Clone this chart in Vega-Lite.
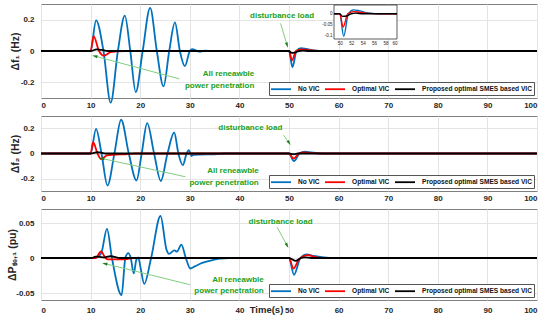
{
 "$schema": "https://vega.github.io/schema/vega-lite/v6.json",
 "padding": {"left": 6, "top": 3, "right": 4, "bottom": 2},
 "spacing": 5,
 "datasets": {
  "curves": [
   {"p":1,"s":"No VIC","t":0,"v":0},{"p":1,"s":"No VIC","t":10,"v":0},{"p":1,"s":"No VIC","t":11.1,"v":0.195},{"p":1,"s":"No VIC","t":12.6,"v":0},{"p":1,"s":"No VIC","t":14.05,"v":-0.33},{"p":1,"s":"No VIC","t":15.5,"v":0},{"p":1,"s":"No VIC","t":16.9,"v":0.226},{"p":1,"s":"No VIC","t":18.0,"v":0},{"p":1,"s":"No VIC","t":19.1,"v":-0.262},{"p":1,"s":"No VIC","t":20.5,"v":0},{"p":1,"s":"No VIC","t":22.0,"v":0.275},{"p":1,"s":"No VIC","t":23.35,"v":0},{"p":1,"s":"No VIC","t":24.7,"v":-0.226},{"p":1,"s":"No VIC","t":25.85,"v":0},{"p":1,"s":"No VIC","t":27.0,"v":0.183},{"p":1,"s":"No VIC","t":28.0,"v":0},{"p":1,"s":"No VIC","t":29.0,"v":-0.097},{"p":1,"s":"No VIC","t":30.0,"v":0},{"p":1,"s":"No VIC","t":30.5,"v":0.012},{"p":1,"s":"No VIC","t":31.2,"v":0.004},{"p":1,"s":"No VIC","t":32,"v":-0.004},{"p":1,"s":"No VIC","t":33,"v":0.002},{"p":1,"s":"No VIC","t":35,"v":0},{"p":1,"s":"No VIC","t":49,"v":0},{"p":1,"s":"No VIC","t":50,"v":0},{"p":1,"s":"No VIC","t":50.7,"v":-0.103},{"p":1,"s":"No VIC","t":51.5,"v":0},{"p":1,"s":"No VIC","t":52.4,"v":0.018},{"p":1,"s":"No VIC","t":53.5,"v":0.013},{"p":1,"s":"No VIC","t":55,"v":0.004},{"p":1,"s":"No VIC","t":57,"v":0},{"p":1,"s":"No VIC","t":60,"v":0},{"p":1,"s":"No VIC","t":100,"v":0},
   {"p":1,"s":"Optimal VIC","t":0,"v":0},{"p":1,"s":"Optimal VIC","t":10,"v":0},{"p":1,"s":"Optimal VIC","t":10.6,"v":0.095},{"p":1,"s":"Optimal VIC","t":11.7,"v":0},{"p":1,"s":"Optimal VIC","t":12.6,"v":-0.03},{"p":1,"s":"Optimal VIC","t":14,"v":-0.008},{"p":1,"s":"Optimal VIC","t":15,"v":-0.003},{"p":1,"s":"Optimal VIC","t":17,"v":0},{"p":1,"s":"Optimal VIC","t":49,"v":0},{"p":1,"s":"Optimal VIC","t":50,"v":0},{"p":1,"s":"Optimal VIC","t":50.6,"v":-0.06},{"p":1,"s":"Optimal VIC","t":51.4,"v":0},{"p":1,"s":"Optimal VIC","t":52.5,"v":0.01},{"p":1,"s":"Optimal VIC","t":53.5,"v":0.007},{"p":1,"s":"Optimal VIC","t":55,"v":0.002},{"p":1,"s":"Optimal VIC","t":57,"v":0},{"p":1,"s":"Optimal VIC","t":60,"v":0},{"p":1,"s":"Optimal VIC","t":100,"v":0},
   {"p":1,"s":"Proposed optimal SMES based VIC","t":0,"v":0},{"p":1,"s":"Proposed optimal SMES based VIC","t":10,"v":0},{"p":1,"s":"Proposed optimal SMES based VIC","t":11.2,"v":0.01},{"p":1,"s":"Proposed optimal SMES based VIC","t":12.2,"v":0.007},{"p":1,"s":"Proposed optimal SMES based VIC","t":13.5,"v":0},{"p":1,"s":"Proposed optimal SMES based VIC","t":49,"v":0},{"p":1,"s":"Proposed optimal SMES based VIC","t":50,"v":0},{"p":1,"s":"Proposed optimal SMES based VIC","t":50.5,"v":-0.012},{"p":1,"s":"Proposed optimal SMES based VIC","t":51.2,"v":-0.01},{"p":1,"s":"Proposed optimal SMES based VIC","t":52,"v":0},{"p":1,"s":"Proposed optimal SMES based VIC","t":52.8,"v":0.003},{"p":1,"s":"Proposed optimal SMES based VIC","t":54,"v":0},{"p":1,"s":"Proposed optimal SMES based VIC","t":60,"v":0},{"p":1,"s":"Proposed optimal SMES based VIC","t":100,"v":0},

   {"p":2,"s":"No VIC","t":0,"v":0},{"p":2,"s":"No VIC","t":10,"v":0},{"p":2,"s":"No VIC","t":11.1,"v":0.197},{"p":2,"s":"No VIC","t":12.2,"v":0},{"p":2,"s":"No VIC","t":13.4,"v":-0.256},{"p":2,"s":"No VIC","t":14.8,"v":0},{"p":2,"s":"No VIC","t":16.15,"v":0.27},{"p":2,"s":"No VIC","t":17.7,"v":0},{"p":2,"s":"No VIC","t":19.25,"v":-0.216},{"p":2,"s":"No VIC","t":20.3,"v":0},{"p":2,"s":"No VIC","t":21.4,"v":0.243},{"p":2,"s":"No VIC","t":22.8,"v":0},{"p":2,"s":"No VIC","t":24.15,"v":-0.22},{"p":2,"s":"No VIC","t":25.5,"v":0},{"p":2,"s":"No VIC","t":26.85,"v":0.168},{"p":2,"s":"No VIC","t":27.7,"v":0},{"p":2,"s":"No VIC","t":28.6,"v":-0.093},{"p":2,"s":"No VIC","t":29.35,"v":0},{"p":2,"s":"No VIC","t":29.8,"v":0.027},{"p":2,"s":"No VIC","t":30.05,"v":0.005},{"p":2,"s":"No VIC","t":30.35,"v":-0.02},{"p":2,"s":"No VIC","t":30.8,"v":-0.01},{"p":2,"s":"No VIC","t":32,"v":-0.008},{"p":2,"s":"No VIC","t":35,"v":-0.006},{"p":2,"s":"No VIC","t":37,"v":0},{"p":2,"s":"No VIC","t":50,"v":0},{"p":2,"s":"No VIC","t":51.0,"v":-0.061},{"p":2,"s":"No VIC","t":52.1,"v":0},{"p":2,"s":"No VIC","t":53.2,"v":0.014},{"p":2,"s":"No VIC","t":54.5,"v":0.008},{"p":2,"s":"No VIC","t":56,"v":0.002},{"p":2,"s":"No VIC","t":58,"v":0},{"p":2,"s":"No VIC","t":100,"v":0},
   {"p":2,"s":"Optimal VIC","t":0,"v":0},{"p":2,"s":"Optimal VIC","t":10,"v":0},{"p":2,"s":"Optimal VIC","t":10.5,"v":0.09},{"p":2,"s":"Optimal VIC","t":11.4,"v":0},{"p":2,"s":"Optimal VIC","t":12.1,"v":-0.045},{"p":2,"s":"Optimal VIC","t":13.3,"v":-0.015},{"p":2,"s":"Optimal VIC","t":14.5,"v":-0.01},{"p":2,"s":"Optimal VIC","t":17,"v":-0.006},{"p":2,"s":"Optimal VIC","t":19,"v":0},{"p":2,"s":"Optimal VIC","t":50,"v":0},{"p":2,"s":"Optimal VIC","t":50.9,"v":-0.04},{"p":2,"s":"Optimal VIC","t":52,"v":0},{"p":2,"s":"Optimal VIC","t":53,"v":0.008},{"p":2,"s":"Optimal VIC","t":54.5,"v":0.004},{"p":2,"s":"Optimal VIC","t":56,"v":0},{"p":2,"s":"Optimal VIC","t":100,"v":0},
   {"p":2,"s":"Proposed optimal SMES based VIC","t":0,"v":0},{"p":2,"s":"Proposed optimal SMES based VIC","t":10,"v":0},{"p":2,"s":"Proposed optimal SMES based VIC","t":11.4,"v":0.01},{"p":2,"s":"Proposed optimal SMES based VIC","t":12.2,"v":0.006},{"p":2,"s":"Proposed optimal SMES based VIC","t":13,"v":0},{"p":2,"s":"Proposed optimal SMES based VIC","t":50,"v":0},{"p":2,"s":"Proposed optimal SMES based VIC","t":51,"v":-0.006},{"p":2,"s":"Proposed optimal SMES based VIC","t":51.8,"v":0},{"p":2,"s":"Proposed optimal SMES based VIC","t":100,"v":0},

   {"p":3,"s":"No VIC","t":0,"v":0},{"p":3,"s":"No VIC","t":10.5,"v":0},{"p":3,"s":"No VIC","t":11.5,"v":0.002},{"p":3,"s":"No VIC","t":12.2,"v":0.008},{"p":3,"s":"No VIC","t":13.3,"v":0.0415},{"p":3,"s":"No VIC","t":14.3,"v":0},{"p":3,"s":"No VIC","t":16.25,"v":-0.053},{"p":3,"s":"No VIC","t":17.0,"v":0},{"p":3,"s":"No VIC","t":17.6,"v":0.007},{"p":3,"s":"No VIC","t":18.1,"v":0},{"p":3,"s":"No VIC","t":18.7,"v":-0.022},{"p":3,"s":"No VIC","t":19.2,"v":-0.003},{"p":3,"s":"No VIC","t":19.6,"v":0.001},{"p":3,"s":"No VIC","t":20.1,"v":-0.015},{"p":3,"s":"No VIC","t":20.8,"v":-0.037},{"p":3,"s":"No VIC","t":22.2,"v":0},{"p":3,"s":"No VIC","t":24.1,"v":0.06},{"p":3,"s":"No VIC","t":25.3,"v":0.012},{"p":3,"s":"No VIC","t":25.8,"v":0.006},{"p":3,"s":"No VIC","t":26.9,"v":0.011},{"p":3,"s":"No VIC","t":27.4,"v":0.009},{"p":3,"s":"No VIC","t":28.3,"v":0.019},{"p":3,"s":"No VIC","t":29.2,"v":0},{"p":3,"s":"No VIC","t":30.1,"v":-0.015},{"p":3,"s":"No VIC","t":31,"v":-0.012},{"p":3,"s":"No VIC","t":32.5,"v":-0.007},{"p":3,"s":"No VIC","t":34,"v":-0.004},{"p":3,"s":"No VIC","t":36,"v":-0.001},{"p":3,"s":"No VIC","t":38,"v":0},{"p":3,"s":"No VIC","t":50,"v":0},{"p":3,"s":"No VIC","t":51.0,"v":-0.024},{"p":3,"s":"No VIC","t":52.3,"v":0},{"p":3,"s":"No VIC","t":53.6,"v":0.005},{"p":3,"s":"No VIC","t":55,"v":0.003},{"p":3,"s":"No VIC","t":57,"v":0.001},{"p":3,"s":"No VIC","t":59,"v":0},{"p":3,"s":"No VIC","t":100,"v":0},
   {"p":3,"s":"Optimal VIC","t":0,"v":0},{"p":3,"s":"Optimal VIC","t":11,"v":0},{"p":3,"s":"Optimal VIC","t":12.1,"v":0.0094},{"p":3,"s":"Optimal VIC","t":13.0,"v":0},{"p":3,"s":"Optimal VIC","t":13.5,"v":-0.002},{"p":3,"s":"Optimal VIC","t":17,"v":-0.002},{"p":3,"s":"Optimal VIC","t":18.5,"v":0},{"p":3,"s":"Optimal VIC","t":50,"v":0},{"p":3,"s":"Optimal VIC","t":50.9,"v":-0.015},{"p":3,"s":"Optimal VIC","t":52,"v":-0.002},{"p":3,"s":"Optimal VIC","t":53.8,"v":0.004},{"p":3,"s":"Optimal VIC","t":55,"v":0.002},{"p":3,"s":"Optimal VIC","t":57,"v":0},{"p":3,"s":"Optimal VIC","t":100,"v":0},
   {"p":3,"s":"Proposed optimal SMES based VIC","t":0,"v":0},{"p":3,"s":"Proposed optimal SMES based VIC","t":10.3,"v":0},{"p":3,"s":"Proposed optimal SMES based VIC","t":11,"v":0.002},{"p":3,"s":"Proposed optimal SMES based VIC","t":12.5,"v":0.001},{"p":3,"s":"Proposed optimal SMES based VIC","t":14,"v":0.0025},{"p":3,"s":"Proposed optimal SMES based VIC","t":16,"v":0},{"p":3,"s":"Proposed optimal SMES based VIC","t":50,"v":0},{"p":3,"s":"Proposed optimal SMES based VIC","t":51.4,"v":-0.004},{"p":3,"s":"Proposed optimal SMES based VIC","t":52.4,"v":0},{"p":3,"s":"Proposed optimal SMES based VIC","t":53.2,"v":0.001},{"p":3,"s":"Proposed optimal SMES based VIC","t":54.5,"v":0},{"p":3,"s":"Proposed optimal SMES based VIC","t":100,"v":0}
  ],
  "notes": [
   {"p":1,"k":"dtext","t":48.6,"v":0.222,"label":"disturbance load"},
   {"p":1,"k":"rtext","t":43.0,"v":-0.148,"label":"All reneawble"},
   {"p":1,"k":"rtext","t":43.0,"v":-0.224,"label":"power penetration"},
   {"p":1,"k":"darrow","t":48.3,"v":0.176,"t2":49.6,"v2":0.039},
   {"p":1,"k":"rarrow","t":27.9,"v":-0.178,"t2":10.9,"v2":-0.033},
   {"p":2,"k":"dtext","t":42.2,"v":0.208,"label":"disturbance load"},
   {"p":2,"k":"rtext","t":43.9,"v":-0.141,"label":"All reneawble"},
   {"p":2,"k":"rtext","t":43.9,"v":-0.234,"label":"power penetration"},
   {"p":2,"k":"darrow","t":48.9,"v":0.147,"t2":50.0,"v2":0.086},
   {"p":2,"k":"rarrow","t":29.1,"v":-0.186,"t2":12.3,"v2":-0.04},
   {"p":3,"k":"dtext","t":48.3,"v":0.0514,"label":"disturbance load"},
   {"p":3,"k":"rtext","t":44.9,"v":-0.0319,"label":"All reneawble"},
   {"p":3,"k":"rtext","t":44.9,"v":-0.0476,"label":"power penetration"},
   {"p":3,"k":"darrow","t":47.6,"v":0.044,"t2":49.6,"v2":0.0181},
   {"p":3,"k":"rarrow","t":30.0,"v":-0.0381,"t2":12.9,"v2":-0.0081}
  ]
 },
 "config": {
  "font": "Liberation Sans",
  "view": {"stroke": "#808080"},
  "axis": {"labelFontSize": 8, "labelFontWeight": "bold", "labelColor": "#262626", "titleFontSize": 10.5, "titleFontWeight": "bold", "titleColor": "#262626", "gridColor": "#e4e4e4", "domain": false, "ticks": false},
  "legend": {"orient": "bottom-right", "direction": "horizontal", "offset": 3, "symbolType": "M-2.5,0L2.5,0", "symbolSize": 64, "symbolStrokeWidth": 2, "symbolOffset": 5, "labelOffset": 12, "labelFontSize": 6.6, "labelFontWeight": "bold", "labelColor": "#111", "strokeColor": "#555", "fillColor": "white", "padding": 2, "columnPadding": 1, "labelLimit": 300},
  "line": {"clip": true, "strokeWidth": 1.8, "interpolate": "monotone"}
 },
 "resolve": {"scale": {"color": "independent"}, "legend": {"color": "independent"}},
 "vconcat": [
  {
   "width": 496, "height": 94,
   "resolve": {"scale": {"x": "independent", "y": "independent"}},
   "layer": [
    {
     "encoding": {
      "x": {"field": "t", "type": "quantitative", "scale": {"domain": [0, 100], "nice": false, "zero": false}, "axis": {"values": [0,10,20,30,40,50,60,70,80,90,100], "title": null, "labelPadding": 3, "grid": true}},
      "y": {"field": "v", "type": "quantitative", "scale": {"domain": [-0.3, 0.3], "nice": false, "zero": false}, "axis": {"values": [-0.2, 0, 0.2], "title": "Δf₁ (Hz)", "labelPadding": 7, "titleX": -26, "titleBaseline": "middle", "labelExpr": "replace(format(datum.value, ''), '−', '-')"}}
     },
     "layer": [
      {"data": {"name": "curves"}, "transform": [{"filter": "datum.p == 1 && datum.s == 'No VIC'"}], "mark": {"type": "line"}, "encoding": {"color": {"field": "s", "type": "nominal", "scale": {"domain": ["No VIC", "Optimal VIC", "Proposed optimal SMES based VIC"], "range": ["#0072BD", "#FF0000", "#000000"]}, "legend": {"title": null}}}},
      {"data": {"name": "curves"}, "transform": [{"filter": "datum.p == 1 && datum.s == 'Optimal VIC'"}], "mark": {"type": "line"}, "encoding": {"color": {"field": "s", "type": "nominal", "scale": {"domain": ["No VIC", "Optimal VIC", "Proposed optimal SMES based VIC"], "range": ["#0072BD", "#FF0000", "#000000"]}, "legend": {"title": null}}}},
      {"data": {"name": "curves"}, "transform": [{"filter": "datum.p == 1 && datum.s == 'Proposed optimal SMES based VIC'"}], "mark": {"type": "line"}, "encoding": {"color": {"field": "s", "type": "nominal", "scale": {"domain": ["No VIC", "Optimal VIC", "Proposed optimal SMES based VIC"], "range": ["#0072BD", "#FF0000", "#000000"]}, "legend": {"title": null}}}},
      {"data": {"name": "notes"}, "transform": [{"filter": "datum.p == 1 && (datum.k == 'darrow' || datum.k == 'rarrow')"}], "mark": {"type": "rule", "color": "#7fcf7f", "strokeWidth": 1}, "encoding": {"x2": {"field": "t2"}, "y2": {"field": "v2"}}},
      {"data": {"name": "notes"}, "transform": [{"filter": "datum.p == 1 && datum.k == 'darrow'"}], "mark": {"type": "point", "shape": "M0,-1L0.5,0.8L-0.5,0.8Z", "filled": true, "size": 35, "angle": 162, "color": "#1e7d1e", "opacity": 1}, "encoding": {"x": {"field": "t2", "type": "quantitative"}, "y": {"field": "v2", "type": "quantitative"}}},
      {"data": {"name": "notes"}, "transform": [{"filter": "datum.p == 1 && datum.k == 'rarrow'"}], "mark": {"type": "point", "shape": "M0,-1L0.5,0.8L-0.5,0.8Z", "filled": true, "size": 35, "angle": 285, "color": "#1e7d1e", "opacity": 1}, "encoding": {"x": {"field": "t2", "type": "quantitative"}, "y": {"field": "v2", "type": "quantitative"}}},
      {"data": {"name": "notes"}, "transform": [{"filter": "datum.p == 1 && datum.k == 'dtext'"}], "mark": {"type": "text", "fontSize": 8, "fontWeight": "bold", "color": "#22a022", "align": "center", "baseline": "middle"}, "encoding": {"text": {"field": "label"}}},
      {"data": {"name": "notes"}, "transform": [{"filter": "datum.p == 1 && datum.k == 'rtext'"}], "mark": {"type": "text", "fontSize": 8, "fontWeight": "bold", "color": "#22a022", "align": "right", "baseline": "middle"}, "encoding": {"text": {"field": "label"}}}
     ]
    },
    {
     "layer": [
      {"data": {"values": [{}]}, "mark": {"type": "rect", "fill": "white", "stroke": "#333333", "strokeWidth": 0.8},
       "encoding": {
        "x": {"datum": 49, "type": "quantitative", "scale": {"domain": [49, 60], "range": [293, 356], "nice": false, "zero": false}, "axis": {"orient": "bottom", "offset": -59, "values": [50,52,54,56,58,60], "labelFontSize": 4.5, "labelFontWeight": "normal", "labelPadding": 1, "grid": false, "title": null, "zindex": 1}},
        "x2": {"datum": 60},
        "y": {"datum": -0.115, "type": "quantitative", "scale": {"domain": [-0.115, 0.04], "range": [35, 1], "nice": false, "zero": false}, "axis": {"orient": "left", "offset": -293, "values": [-0.1, -0.05, 0], "labelFontSize": 4.5, "labelFontWeight": "normal", "labelPadding": 2, "grid": false, "title": null, "zindex": 1, "labelExpr": "replace(format(datum.value, ''), '−', '-')"}},
        "y2": {"datum": 0.04}
       }},
      {"data": {"name": "curves"}, "transform": [{"filter": "datum.p == 1 && datum.s == 'No VIC' && datum.t >= 49 && datum.t <= 60"}], "mark": {"type": "line", "color": "#0072BD", "strokeWidth": 1.4}, "encoding": {"x": {"field": "t", "type": "quantitative"}, "y": {"field": "v", "type": "quantitative"}}},
      {"data": {"name": "curves"}, "transform": [{"filter": "datum.p == 1 && datum.s == 'Optimal VIC' && datum.t >= 49 && datum.t <= 60"}], "mark": {"type": "line", "color": "#FF0000", "strokeWidth": 1.4}, "encoding": {"x": {"field": "t", "type": "quantitative"}, "y": {"field": "v", "type": "quantitative"}}},
      {"data": {"name": "curves"}, "transform": [{"filter": "datum.p == 1 && datum.s == 'Proposed optimal SMES based VIC' && datum.t >= 49 && datum.t <= 60"}], "mark": {"type": "line", "color": "#000000", "strokeWidth": 1.4}, "encoding": {"x": {"field": "t", "type": "quantitative"}, "y": {"field": "v", "type": "quantitative"}}}
     ]
    }
   ]
  },
  {
   "width": 496, "height": 75,
   "encoding": {
    "x": {"field": "t", "type": "quantitative", "scale": {"domain": [0, 100], "nice": false, "zero": false}, "axis": {"values": [0,10,20,30,40,50,60,70,80,90,100], "title": null, "labelPadding": 3, "grid": true}},
    "y": {"field": "v", "type": "quantitative", "scale": {"domain": [-0.3, 0.3], "nice": false, "zero": false}, "axis": {"values": [-0.2, 0, 0.2], "title": "Δf₂ (Hz)", "labelPadding": 7, "titleX": -26, "titleBaseline": "middle", "labelExpr": "replace(format(datum.value, ''), '−', '-')"}}
   },
   "layer": [
    {"data": {"name": "curves"}, "transform": [{"filter": "datum.p == 2 && datum.s == 'No VIC'"}], "mark": {"type": "line"}, "encoding": {"color": {"field": "s", "type": "nominal", "scale": {"domain": ["No VIC", "Optimal VIC", "Proposed optimal SMES based VIC"], "range": ["#0072BD", "#FF0000", "#000000"]}, "legend": {"title": null}}}},
    {"data": {"name": "curves"}, "transform": [{"filter": "datum.p == 2 && datum.s == 'Optimal VIC'"}], "mark": {"type": "line"}, "encoding": {"color": {"field": "s", "type": "nominal", "scale": {"domain": ["No VIC", "Optimal VIC", "Proposed optimal SMES based VIC"], "range": ["#0072BD", "#FF0000", "#000000"]}, "legend": {"title": null}}}},
    {"data": {"name": "curves"}, "transform": [{"filter": "datum.p == 2 && datum.s == 'Proposed optimal SMES based VIC'"}], "mark": {"type": "line"}, "encoding": {"color": {"field": "s", "type": "nominal", "scale": {"domain": ["No VIC", "Optimal VIC", "Proposed optimal SMES based VIC"], "range": ["#0072BD", "#FF0000", "#000000"]}, "legend": {"title": null}}}},
    {"data": {"name": "notes"}, "transform": [{"filter": "datum.p == 2 && (datum.k == 'darrow' || datum.k == 'rarrow')"}], "mark": {"type": "rule", "color": "#7fcf7f", "strokeWidth": 1}, "encoding": {"x2": {"field": "t2"}, "y2": {"field": "v2"}}},
    {"data": {"name": "notes"}, "transform": [{"filter": "datum.p == 2 && datum.k == 'darrow'"}], "mark": {"type": "point", "shape": "M0,-1L0.5,0.8L-0.5,0.8Z", "filled": true, "size": 35, "angle": 147, "color": "#1e7d1e", "opacity": 1}, "encoding": {"x": {"field": "t2", "type": "quantitative"}, "y": {"field": "v2", "type": "quantitative"}}},
    {"data": {"name": "notes"}, "transform": [{"filter": "datum.p == 2 && datum.k == 'rarrow'"}], "mark": {"type": "point", "shape": "M0,-1L0.5,0.8L-0.5,0.8Z", "filled": true, "size": 35, "angle": 282, "color": "#1e7d1e", "opacity": 1}, "encoding": {"x": {"field": "t2", "type": "quantitative"}, "y": {"field": "v2", "type": "quantitative"}}},
    {"data": {"name": "notes"}, "transform": [{"filter": "datum.p == 2 && datum.k == 'dtext'"}], "mark": {"type": "text", "fontSize": 8, "fontWeight": "bold", "color": "#22a022", "align": "center", "baseline": "middle"}, "encoding": {"text": {"field": "label"}}},
    {"data": {"name": "notes"}, "transform": [{"filter": "datum.p == 2 && datum.k == 'rtext'"}], "mark": {"type": "text", "fontSize": 8, "fontWeight": "bold", "color": "#22a022", "align": "right", "baseline": "middle"}, "encoding": {"text": {"field": "label"}}}
   ]
  },
  {
   "width": 496, "height": 91,
   "encoding": {
    "x": {"field": "t", "type": "quantitative", "scale": {"domain": [0, 100], "nice": false, "zero": false}, "axis": {"values": [0,10,20,30,40,50,60,70,80,90,100], "title": "Time(s)", "titleX": 225, "titleY": 9, "titleBaseline": "middle", "titleFontSize": 9.5, "labelPadding": 6, "grid": true}},
    "y": {"field": "v", "type": "quantitative", "scale": {"domain": [-0.06, 0.07], "nice": false, "zero": false}, "axis": {"values": [-0.05, 0, 0.05], "title": "ΔPₜᵢₑ,₁ (pu)", "labelPadding": 7, "titleX": -29, "titleBaseline": "middle", "labelExpr": "replace(format(datum.value, ''), '−', '-')"}}
   },
   "layer": [
    {"data": {"name": "curves"}, "transform": [{"filter": "datum.p == 3 && datum.s == 'No VIC'"}], "mark": {"type": "line"}, "encoding": {"color": {"field": "s", "type": "nominal", "scale": {"domain": ["No VIC", "Optimal VIC", "Proposed optimal SMES based VIC"], "range": ["#0072BD", "#FF0000", "#000000"]}, "legend": {"title": null}}}},
    {"data": {"name": "curves"}, "transform": [{"filter": "datum.p == 3 && datum.s == 'Optimal VIC'"}], "mark": {"type": "line"}, "encoding": {"color": {"field": "s", "type": "nominal", "scale": {"domain": ["No VIC", "Optimal VIC", "Proposed optimal SMES based VIC"], "range": ["#0072BD", "#FF0000", "#000000"]}, "legend": {"title": null}}}},
    {"data": {"name": "curves"}, "transform": [{"filter": "datum.p == 3 && datum.s == 'Proposed optimal SMES based VIC'"}], "mark": {"type": "line"}, "encoding": {"color": {"field": "s", "type": "nominal", "scale": {"domain": ["No VIC", "Optimal VIC", "Proposed optimal SMES based VIC"], "range": ["#0072BD", "#FF0000", "#000000"]}, "legend": {"title": null}}}},
    {"data": {"name": "notes"}, "transform": [{"filter": "datum.p == 3 && (datum.k == 'darrow' || datum.k == 'rarrow')"}], "mark": {"type": "rule", "color": "#7fcf7f", "strokeWidth": 1}, "encoding": {"x2": {"field": "t2"}, "y2": {"field": "v2"}}},
    {"data": {"name": "notes"}, "transform": [{"filter": "datum.p == 3 && datum.k == 'darrow'"}], "mark": {"type": "point", "shape": "M0,-1L0.5,0.8L-0.5,0.8Z", "filled": true, "size": 35, "angle": 151, "color": "#1e7d1e", "opacity": 1}, "encoding": {"x": {"field": "t2", "type": "quantitative"}, "y": {"field": "v2", "type": "quantitative"}}},
    {"data": {"name": "notes"}, "transform": [{"filter": "datum.p == 3 && datum.k == 'rarrow'"}], "mark": {"type": "point", "shape": "M0,-1L0.5,0.8L-0.5,0.8Z", "filled": true, "size": 35, "angle": 284, "color": "#1e7d1e", "opacity": 1}, "encoding": {"x": {"field": "t2", "type": "quantitative"}, "y": {"field": "v2", "type": "quantitative"}}},
    {"data": {"name": "notes"}, "transform": [{"filter": "datum.p == 3 && datum.k == 'dtext'"}], "mark": {"type": "text", "fontSize": 8, "fontWeight": "bold", "color": "#22a022", "align": "center", "baseline": "middle"}, "encoding": {"text": {"field": "label"}}},
    {"data": {"name": "notes"}, "transform": [{"filter": "datum.p == 3 && datum.k == 'rtext'"}], "mark": {"type": "text", "fontSize": 8, "fontWeight": "bold", "color": "#22a022", "align": "right", "baseline": "middle"}, "encoding": {"text": {"field": "label"}}}
   ]
  }
 ]
}
